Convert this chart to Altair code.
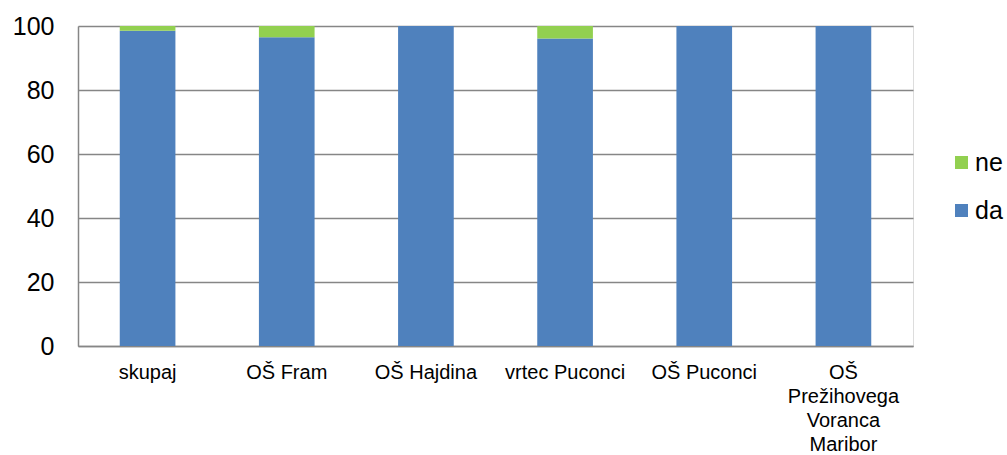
import altair as alt
import pandas as pd

categories = ["skupaj", "OŠ Fram", "OŠ Hajdina", "vrtec Puconci", "OŠ Puconci",
              "OŠ Prežihovega Voranca Maribor"]
da = [98.5, 96.5, 100, 96.1, 100, 100]
ne = [1.5, 3.5, 0, 3.9, 0, 0]
series = ["ne", "da"]
colors = ["#92D050", "#4F81BD"]

rows = []
for c, d, n in zip(categories, da, ne):
    rows.append({"kategorija": c, "serija": "da", "vrednost": d, "red": 0})
    rows.append({"kategorija": c, "serija": "ne", "vrednost": n, "red": 1})
df = pd.DataFrame(rows)

FONT = "Liberation Sans"

chart = alt.Chart(df).mark_bar().encode(
    x=alt.X("kategorija:N", sort=categories, title=None,
            scale=alt.Scale(paddingInner=0.6, paddingOuter=0.3),
            axis=alt.Axis(labelAngle=0, labelFont=FONT, labelFontSize=20,
                          labelColor="#000000", labelPadding=16,
                          labelLineHeight=24, labelBaseline="top",
                          labelExpr="length(datum.label) > 20 ? split(datum.label, ' ') : datum.label",
                          ticks=False, domainColor="#868686", domainWidth=1.5,
                          grid=False, labelLimit=300)),
    y=alt.Y("vrednost:Q", title=None, stack="zero",
            scale=alt.Scale(domain=[0, 100], nice=False),
            axis=alt.Axis(values=[0, 20, 40, 60, 80, 100], labelFont=FONT,
                          labelFontSize=25, labelColor="#000000", labelPadding=24,
                          ticks=False, domainColor="#868686", domainWidth=1.5,
                          grid=True, gridColor="#868686", gridWidth=1.5)),
    color=alt.Color("serija:N", sort=series, title=None,
                    scale=alt.Scale(domain=series, range=colors),
                    legend=alt.Legend(orient="none", legendX=871, legendY=124,
                                      symbolType="square", symbolSize=169,
                                      symbolStrokeWidth=0, labelFont=FONT,
                                      labelFontSize=25, labelColor="#000000",
                                      labelOffset=1, rowPadding=22, padding=0)),
    order=alt.Order("red:Q"),
).properties(
    width=835, height=320,
    padding={"left": 78, "top": 26, "right": 94, "bottom": 109},
    autosize=alt.AutoSizeParams(type="none"),
).configure_view(stroke=None).configure(background="#ffffff")

chart.save("out.html", embed_options={"renderer": "svg", "actions": False})
